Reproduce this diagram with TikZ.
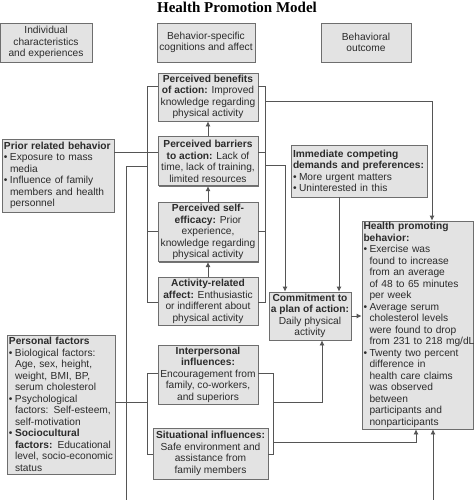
\documentclass[tikz,border=0pt]{standalone}
\usepackage{fontspec}
\setmainfont{Liberation Sans}
\newfontfamily\titlefont{Liberation Serif}
\usetikzlibrary{arrows.meta,positioning,shadows}

\definecolor{boxfill}{HTML}{E3E3E3}
\definecolor{boxline}{HTML}{6E6E6E}
\definecolor{wirecol}{HTML}{555555}
\definecolor{ink}{HTML}{2B2B2B}

\newcommand{\pitem}[1]{\mbox{\makebox[6pt][l]{\textbullet}#1}}
\newcommand{\pcont}[1]{\mbox{\hspace*{6pt}#1}}

\tikzset{
  box/.style={draw=boxline, fill=boxfill, line width=0.8pt, text=ink,
    font=\fontsize{10.2}{11.5}\selectfont, inner sep=1pt,
    drop shadow={shadow xshift=0.9pt, shadow yshift=-0.9pt, fill=black!55, opacity=1}},
  cbox/.style={box, align=center},
  lbox/.style={box, align=left, inner xsep=2pt},
  wire/.style={draw=wirecol, line width=0.8pt},
  >={Latex[length=5pt,width=5pt]}
}

\begin{document}
\begin{tikzpicture}[x=1pt,y=-1pt]
      \clip (0,0) rectangle (474,500);
      \node[font=\titlefont\bfseries\fontsize{15}{15}\selectfont, anchor=base] (title) at (237,12.5) {Health Promotion Model};

      \node[cbox, minimum width=92pt, minimum height=39pt] (indiv) at (46,42.5) {Individual\\characteristics\\and experiences};
      \node[cbox, minimum width=98pt, minimum height=39pt] (specific) at (206,42.5) {Behavior-specific\\cognitions and affect};
      \node[cbox, minimum width=90pt, minimum height=39pt] (outcome) at (366,42.5) {Behavioral\\outcome};

      \node[cbox, minimum width=100pt, minimum height=48pt] (benefits) at (208,97)
        {\textbf{Perceived benefits}\\\textbf{of action:} Improved\\knowledge regarding\\physical activity};
      \node[cbox, minimum width=100pt, minimum height=49pt, below=15pt of benefits] (barriers)
        {\textbf{Perceived barriers}\\\textbf{to action:} Lack of\\time, lack of training,\\limited resources};
      \node[cbox, minimum width=100pt, minimum height=59pt, below=16pt of barriers] (efficacy)
        {\textbf{Perceived self-}\\\textbf{efficacy:} Prior\\experience,\\knowledge regarding\\physical activity};
      \node[cbox, minimum width=100pt, minimum height=48pt, below=15pt of efficacy] (affect)
        {\textbf{Activity-related}\\\textbf{affect:} Enthusiastic\\or indifferent about\\physical activity};

      \node[lbox, text width=108pt, minimum height=73pt] (prior) at (58,175.5)
        {\textbf{Prior related behavior}\\\pitem{Exposure to mass}\\\pcont{media}\\\pitem{Influence of family}\\\pcont{members and health}\\\pcont{personnel}};
      \node[lbox, text width=132pt, minimum height=52pt] (competing) at (359,171)
        {\textbf{Immediate competing}\\\textbf{demands and preferences:}\\\pitem{More urgent matters}\\\pitem{Uninterested in this}};
      \node[cbox, minimum width=82pt, minimum height=48pt] (commitment) at (310,316)
        {\textbf{Commitment to}\\\textbf{a plan of action:}\\Daily physical\\activity};
      \node[lbox, text width=108pt, inner xsep=1.5pt, minimum height=208pt] (health) at (417.5,325)
        {\textbf{Health promoting}\\\textbf{behavior:}\\\pitem{Exercise was}\\\pcont{found to increase}\\\pcont{from an average}\\\pcont{of 48 to 65 minutes}\\\pcont{per week}\\
         \pitem{Average serum}\\\pcont{cholesterol levels}\\\pcont{were found to drop}\\\pcont{from 231 to 218 mg/dL}\\
         \pitem{Twenty two percent}\\\pcont{difference in}\\\pcont{health care claims}\\\pcont{was observed}\\\pcont{between}\\\pcont{participants and}\\\pcont{nonparticipants}};

      \node[lbox, text width=104pt, minimum height=139pt] (personal) at (61,404.5)
        {\textbf{Personal factors}\\\pitem{Biological factors:}\\\pcont{Age, sex, height,}\\\pcont{weight, BMI, BP,}\\\pcont{serum cholesterol}\\
         \pitem{Psychological}\\\pcont{factors: Self-esteem,}\\\pcont{self-motivation}\\
         \pitem{\textbf{Sociocultural}}\\\pcont{\textbf{factors:} Educational}\\\pcont{level, socio-economic}\\\pcont{status}};
      \node[cbox, minimum width=100pt, minimum height=59pt] (interp) at (208,374.5)
        {\textbf{Interpersonal}\\\textbf{influences:}\\Encouragement from\\family, co-workers,\\and superiors};
      \node[cbox, minimum width=115pt, minimum height=51pt] (situ) at (210.5,453.5)
        {\textbf{Situational influences:}\\Safe environment and\\assistance from\\family members};

      \foreach \lo/\hi in {barriers/benefits, efficacy/barriers, affect/efficacy}
        \draw[wire, ->] (\lo) -- (\hi);

      \draw[wire] (benefits.west |- 0,86) -| (147,302) -- (affect.west |- 0,302);
      \draw[wire] (prior.east |- 0,152) -- (barriers.west |- 0,152);
      \draw[wire] (147,231) -- (efficacy.west |- 0,231);
      \draw[wire] (benefits.east |- 0,86) -| (265,302) -- (affect.east |- 0,302);
      \draw[wire] (barriers.east |- 0,152) -- (265,152);
      \draw[wire] (efficacy.east |- 0,231) -- (265,231);

      \draw[wire, ->] (265,101) -| (health.north -| 432,0);
      \draw[wire, ->] (265,165) -| (commitment.north -| 285,0);
      \draw[wire, ->] (competing.south -| 339,0) -- (commitment.north -| 339,0);
      \draw[wire, ->] (commitment) -- (commitment -| health.west);

      \draw[wire] (personal.east |- 0,402) -- (147,402);
      \draw[wire] (interp.west |- 0,373) -| (147,454) -- (situ.west |- 0,454);
      \draw[wire] (interp.east |- 0,373) -| (273,454) -- (situ.east |- 0,454);
      \draw[wire, ->] (273,402) -| (commitment.south -| 322,0);
      \draw[wire, ->] (273,442) -| (health.south -| 416,0);
      \draw[wire, ->] (147,166) -| (126,520) -| (health.south -| 433,0);
\end{tikzpicture}
\end{document}
